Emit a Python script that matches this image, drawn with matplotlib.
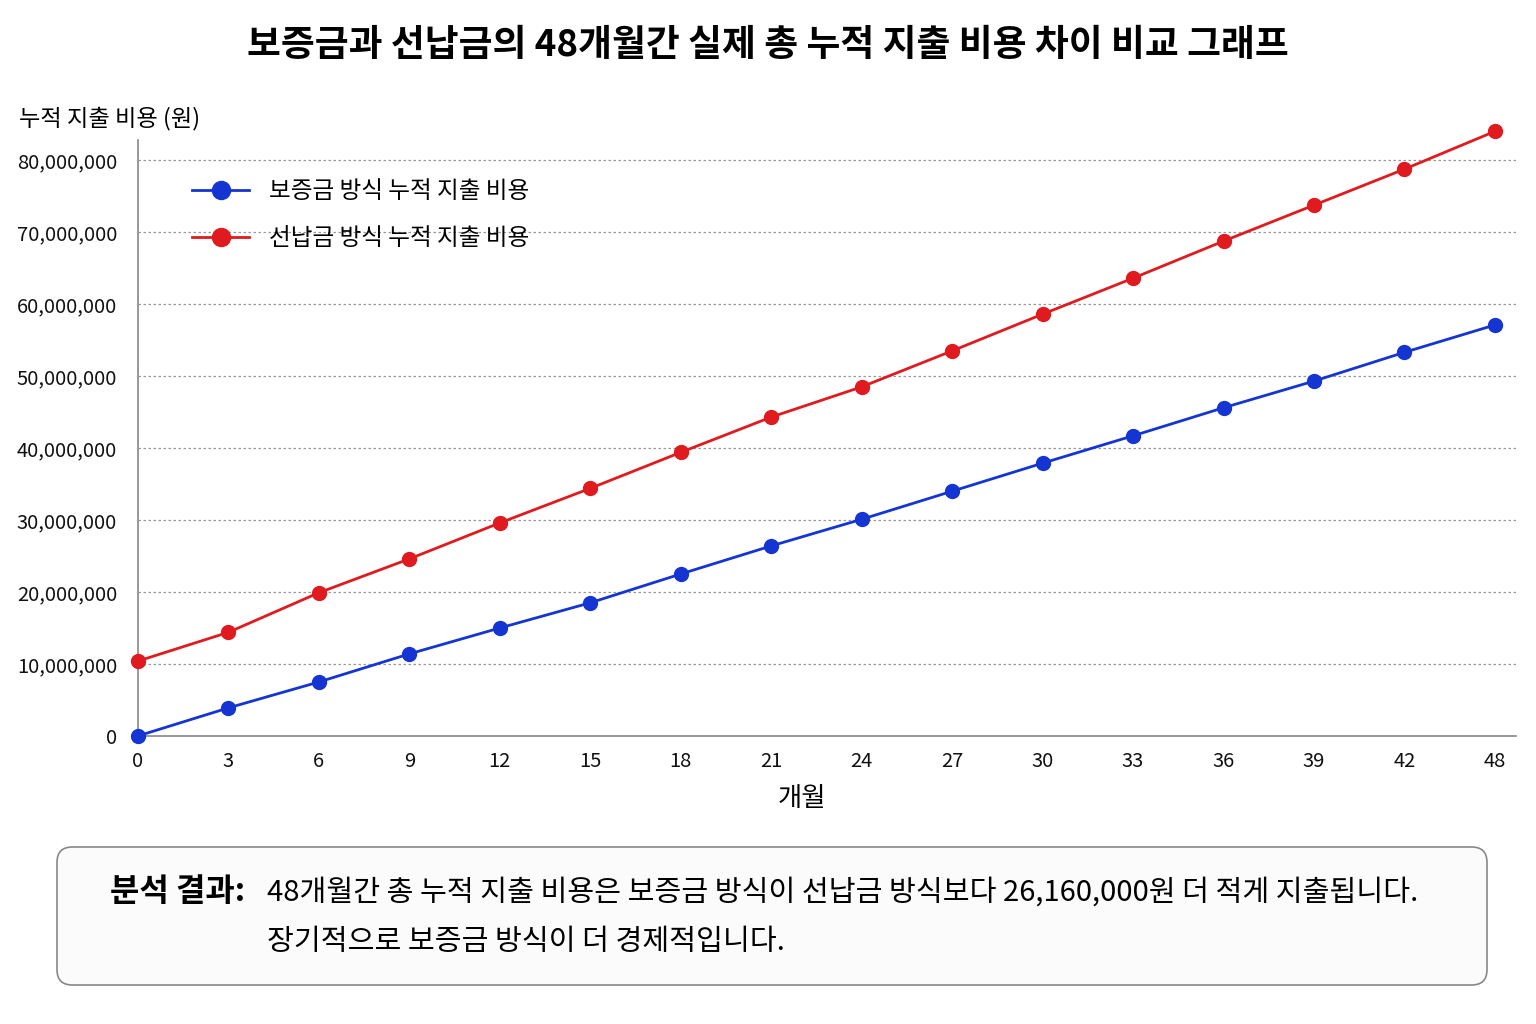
import matplotlib
matplotlib.use("Agg")
import matplotlib.patches as patches
import matplotlib.pyplot as plt
from matplotlib.ticker import FuncFormatter

plt.rcParams["font.family"] = ["Noto Sans CJK KR", "DejaVu Sans"]

# Data (won)
month_labels = ["0", "3", "6", "9", "12", "15", "18", "21", "24", "27", "30", "33", "36", "39", "42", "48"]
deposit_cost = [0, 3_900_000, 7_500_000, 11_400_000, 15_000_000, 18_500_000, 22_500_000, 26_400_000,
                30_100_000, 34_000_000, 37_900_000, 41_700_000, 45_600_000, 49_300_000, 53_300_000, 57_100_000]
prepaid_cost = [10_400_000, 14_400_000, 19_900_000, 24_600_000, 29_600_000, 34_400_000, 39_400_000, 44_300_000,
                48_500_000, 53_500_000, 58_600_000, 63_600_000, 68_750_000, 73_750_000, 78_750_000, 84_000_000]
y_ticks = [0, 10_000_000, 20_000_000, 30_000_000, 40_000_000, 50_000_000, 60_000_000, 70_000_000, 80_000_000]

BLUE = "#1435d2"
RED = "#e01b1f"

fig = plt.figure(figsize=(15.36, 10.24), dpi=100, facecolor="white")
ax = fig.add_axes([0.0898, 0.2813, 0.897, 0.582])

x = list(range(len(month_labels)))
ax.plot(x, deposit_cost, color=BLUE, lw=2, marker="o", ms=10, clip_on=False, zorder=3,
        label="보증금 방식 누적 지출 비용")
ax.plot(x, prepaid_cost, color=RED, lw=2, marker="o", ms=10, clip_on=False, zorder=3,
        label="선납금 방식 누적 지출 비용")

ax.set_xlim(0, 15.23)
ax.set_ylim(0, 82_800_000)
ax.set_xticks(x)
ax.set_xticklabels(month_labels)
ax.set_yticks(y_ticks)
ax.yaxis.set_major_formatter(FuncFormatter(lambda v, _: f"{int(v):,}"))
ax.tick_params(length=0, labelsize=14.5, colors="#111111")
ax.tick_params(axis="x", pad=11)
ax.tick_params(axis="y", pad=15)

for val in y_ticks[1:]:
    ax.axhline(val, color="#999999", lw=0.9, ls=(0, (2, 2)), zorder=1)

for s in ["top", "right"]:
    ax.spines[s].set_visible(False)
for s in ["left", "bottom"]:
    ax.spines[s].set_color("#888888")
    ax.spines[s].set_linewidth(1.2)

ax.set_xlabel("개월", fontsize=19)
ax.xaxis.set_label_coords(0.482, -0.083)

ax.legend(loc="upper left", bbox_to_anchor=(0.024, 0.968), frameon=False, fontsize=17,
          handlelength=2.4, labelspacing=1.0, handletextpad=0.85, markerscale=1.3)

fig.text(0.0125, 0.884, "누적 지출 비용 (원)", fontsize=16.7, ha="left", va="center")

fig.suptitle("보증금과 선납금의 48개월간 실제 총 누적 지출 비용 차이 비교 그래프",
             fontsize=26.5, fontweight="bold", y=0.956, va="center")

# Summary box
box = patches.FancyBboxPatch((57 / 1536, 1 - 985 / 1024), 1430 / 1536, 138 / 1024,
                             boxstyle="round,pad=0,rounding_size=0.01", mutation_aspect=1.5,
                             transform=fig.transFigure, facecolor="#fbfbfb", edgecolor="#888888",
                             linewidth=1.2)
fig.patches.append(box)
fig.text(110 / 1536, 1 - 892 / 1024, "분석 결과:", fontsize=23, fontweight="bold", ha="left", va="center")
fig.text(267 / 1536, 1 - 893 / 1024,
         "48개월간 총 누적 지출 비용은 보증금 방식이 선납금 방식보다 26,160,000원 더 적게 지출됩니다.",
         fontsize=21, ha="left", va="center")
fig.text(267 / 1536, 1 - 942 / 1024, "장기적으로 보증금 방식이 더 경제적입니다.",
         fontsize=21, ha="left", va="center")

fig.savefig("out.png", dpi=100)
